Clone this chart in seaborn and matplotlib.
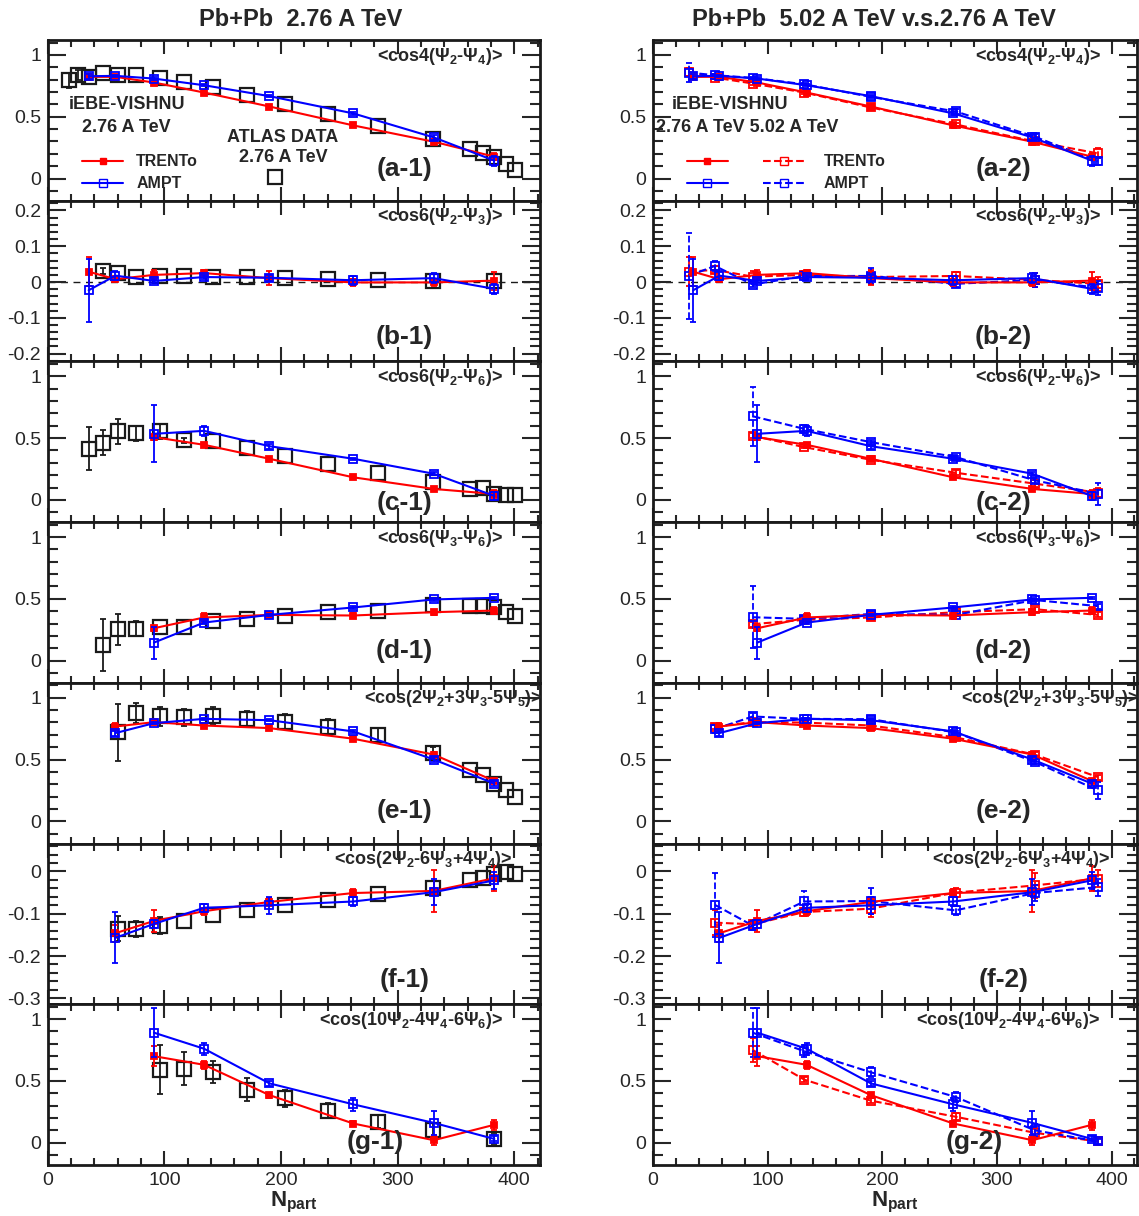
import numpy as np
import pandas as pd
import matplotlib
matplotlib.use("Agg")
import matplotlib.pyplot as plt
from matplotlib.lines import Line2D
from matplotlib.ticker import MultipleLocator
import seaborn as sns

NAN = np.nan

# centrality (Npart) of the model points and of the ATLAS points
NPART_276 = [35, 58, 91, 134, 190, 262, 331, 383]
NPART_502 = [31, 54, 87, 132, 190, 264, 333, 388]
NPART_ATLAS = [18, 26, 35, 47, 60, 76, 96, 117, 142, 171, 203, 240, 283, 330, 362, 373, 383, 393, 401]

# (a) <cos4(Psi2-Psi4)>
A_TRENTO_276 = [0.823, 0.823, 0.777, 0.696, 0.583, 0.430, 0.298, 0.177]
A_TRENTO_276_ERR = [0.02, 0.01, 0.01, 0.01, 0.01, 0.01, 0.02, 0.03]
A_AMPT_276 = [0.828, 0.831, 0.809, 0.755, 0.667, 0.527, 0.333, 0.145]
A_AMPT_276_ERR = [0.02, 0.01, 0.01, 0.01, 0.01, 0.01, 0.02, 0.04]
A_TRENTO_502 = [0.863, 0.817, 0.769, 0.696, 0.575, 0.438, 0.300, 0.204]
A_TRENTO_502_ERR = [0.03, 0.01, 0.01, 0.01, 0.01, 0.01, 0.02, 0.04]
A_AMPT_502 = [0.858, 0.836, 0.815, 0.763, 0.661, 0.543, 0.339, 0.140]
A_AMPT_502_ERR = [0.08, 0.01, 0.01, 0.01, 0.01, 0.02, 0.02, 0.03]
A_ATLAS = [0.796, 0.836, 0.825, 0.852, 0.839, 0.841, 0.815, 0.782, 0.737, 0.677,
           0.607, 0.519, 0.425, 0.317, 0.242, 0.210, 0.177, 0.116, 0.067]
A_ATLAS_ERR = [0.06, 0.04, 0, 0, 0, 0, 0, 0, 0, 0,
               0, 0, 0, 0, 0, 0, 0, 0, 0]

# (b) <cos6(Psi2-Psi3)>
B_TRENTO_276 = [0.029, 0.008, 0.020, 0.025, 0.011, -0.001, -0.001, 0.004]
B_TRENTO_276_ERR = [0.04, 0.005, 0.015, 0.008, 0.02, 0.01, 0.01, 0.025]
B_AMPT_276 = [-0.023, 0.018, 0.003, 0.014, 0.012, 0.005, 0.011, -0.019]
B_AMPT_276_ERR = [0.088, 0.012, 0.005, 0.006, 0.008, 0.012, 0.015, 0.013]
B_TRENTO_502 = [0.029, 0.034, 0.015, 0.020, 0.014, 0.017, 0.006, -0.005]
B_TRENTO_502_ERR = [0.04, 0.01, 0.015, 0.01, 0.02, 0.01, 0.02, 0.02]
B_AMPT_502 = [0.017, 0.045, -0.007, 0.017, 0.017, -0.005, 0.006, -0.016]
B_AMPT_502_ERR = [0.12, 0.015, 0.008, 0.01, 0.022, 0.01, 0.02, 0.02]
B_ATLAS = [NAN, NAN, NAN, 0.031, 0.026, 0.015, 0.016, 0.017, 0.015, 0.013,
           0.010, 0.009, 0.006, 0.003, NAN, NAN, 0.004, NAN, NAN]
B_ATLAS_ERR = [NAN, NAN, NAN, 0.008, 0, 0, 0, 0, 0, 0,
               0, 0, 0, 0, NAN, NAN, 0, NAN, NAN]

# (c) <cos6(Psi2-Psi6)>
C_TRENTO_276 = [NAN, NAN, 0.508, 0.446, 0.333, 0.183, 0.089, 0.048]
C_TRENTO_276_ERR = [NAN, NAN, 0.02, 0.01, 0.01, 0.01, 0.01, 0.03]
C_AMPT_276 = [NAN, NAN, 0.535, 0.559, 0.435, 0.333, 0.212, 0.032]
C_AMPT_276_ERR = [NAN, NAN, 0.23, 0.04, 0.02, 0.01, 0.01, 0.03]
C_TRENTO_502 = [NAN, NAN, 0.519, 0.427, 0.325, 0.220, 0.132, 0.059]
C_TRENTO_502_ERR = [NAN, NAN, 0.02, 0.01, 0.01, 0.02, 0.03, 0.04]
C_AMPT_502 = [NAN, NAN, 0.677, 0.575, 0.468, 0.347, 0.159, 0.051]
C_AMPT_502_ERR = [NAN, NAN, 0.24, 0.03, 0.02, 0.01, 0.02, 0.09]
C_ATLAS = [NAN, NAN, 0.414, 0.462, 0.554, 0.538, 0.556, 0.481, 0.473, 0.419,
           0.355, 0.290, 0.220, 0.145, 0.091, 0.094, 0.051, 0.038, 0.043]
C_ATLAS_ERR = [NAN, NAN, 0.175, 0.10, 0.10, 0.06, 0.06, 0.02, 0, 0,
               0, 0, 0, 0, 0, 0, 0, 0, 0]

# (d) <cos6(Psi3-Psi6)>
D_TRENTO_276 = [NAN, NAN, 0.262, 0.349, 0.370, 0.365, 0.392, 0.405]
D_TRENTO_276_ERR = [NAN, NAN, 0.02, 0.04, 0.01, 0.02, 0.02, 0.03]
D_AMPT_276 = [NAN, NAN, 0.146, 0.308, 0.370, 0.430, 0.495, 0.508]
D_AMPT_276_ERR = [NAN, NAN, 0.13, 0.01, 0.01, 0.01, 0.01, 0.01]
D_TRENTO_502 = [NAN, NAN, 0.295, 0.330, 0.349, 0.392, 0.416, 0.370]
D_TRENTO_502_ERR = [NAN, NAN, 0.02, 0.02, 0.02, 0.02, 0.02, 0.02]
D_AMPT_502 = [NAN, NAN, 0.351, 0.338, 0.378, 0.370, 0.490, 0.441]
D_AMPT_502_ERR = [NAN, NAN, 0.25, 0.02, 0.01, 0.01, 0.01, 0.02]
D_ATLAS = [NAN, NAN, NAN, 0.127, 0.254, 0.257, 0.270, 0.270, 0.322, 0.335,
           0.362, 0.392, 0.405, 0.446, 0.443, 0.441, 0.430, 0.392, 0.365]
D_ATLAS_ERR = [NAN, NAN, NAN, 0.21, 0.125, 0.06, 0, 0, 0, 0,
               0, 0, 0, 0, 0, 0, 0, 0, 0]

# (e) <cos(2Psi2+3Psi3-5Psi5)>
E_TRENTO_276 = [NAN, 0.767, 0.802, 0.775, 0.754, 0.668, 0.540, 0.326]
E_TRENTO_276_ERR = [NAN, 0.03, 0.01, 0.01, 0.01, 0.01, 0.02, 0.02]
E_AMPT_276 = [NAN, 0.714, 0.794, 0.829, 0.818, 0.727, 0.500, 0.305]
E_AMPT_276_ERR = [NAN, 0.02, 0.01, 0.01, 0.01, 0.01, 0.02, 0.02]
E_TRENTO_502 = [NAN, 0.767, 0.802, 0.799, 0.775, 0.679, 0.540, 0.358]
E_TRENTO_502_ERR = [NAN, 0.02, 0.01, 0.01, 0.01, 0.01, 0.02, 0.02]
E_AMPT_502 = [NAN, 0.746, 0.848, 0.829, 0.826, 0.719, 0.481, 0.251]
E_AMPT_502_ERR = [NAN, 0.03, 0.03, 0.01, 0.01, 0.01, 0.02, 0.07]
E_ATLAS = [NAN, NAN, NAN, NAN, 0.719, 0.874, 0.848, 0.842, 0.856, 0.829,
           0.807, 0.767, 0.695, 0.553, 0.417, 0.374, 0.305, 0.257, 0.200]
E_ATLAS_ERR = [NAN, NAN, NAN, NAN, 0.23, 0.08, 0.08, 0.07, 0.07, 0.06,
               0.06, 0.06, 0.06, 0.05, 0, 0, 0, 0, 0]

# (f) <cos(2Psi2-6Psi3+4Psi4)>
F_TRENTO_276 = [NAN, -0.146, -0.117, -0.094, -0.072, -0.051, -0.046, -0.016]
F_TRENTO_276_ERR = [NAN, 0.02, 0.025, 0.008, 0.01, 0.01, 0.05, 0.03]
F_AMPT_276 = [NAN, -0.157, -0.124, -0.086, -0.080, -0.071, -0.049, -0.021]
F_AMPT_276_ERR = [NAN, 0.06, 0.01, 0.01, 0.02, 0.01, 0.03, 0.02]
F_TRENTO_502 = [NAN, -0.121, -0.125, -0.096, -0.088, -0.050, -0.033, -0.017]
F_TRENTO_502_ERR = [NAN, 0.03, 0.01, 0.01, 0.02, 0.01, 0.03, 0.02]
F_AMPT_502 = [NAN, -0.079, -0.128, -0.071, -0.070, -0.092, -0.051, -0.037]
F_AMPT_502_ERR = [NAN, 0.075, 0.01, 0.025, 0.03, 0.01, 0.02, 0.02]
F_ATLAS = [NAN, NAN, NAN, NAN, -0.135, -0.136, -0.128, -0.116, -0.104, -0.092,
           -0.080, -0.067, -0.053, -0.039, -0.020, -0.016, -0.007, -0.002, -0.007]
F_ATLAS_ERR = [NAN, NAN, NAN, NAN, 0.03, 0.02, 0.02, 0, 0, 0,
               0, 0, 0, 0, 0, 0, 0, 0, 0]

# (g) <cos(10Psi2-4Psi4-6Psi6)>
G_TRENTO_276 = [NAN, NAN, 0.70, 0.63, 0.385, 0.155, 0.02, 0.145]
G_TRENTO_276_ERR = [NAN, NAN, 0.08, 0.03, 0.02, 0.02, 0.04, 0.04]
G_AMPT_276 = [NAN, NAN, 0.89, 0.76, 0.48, 0.31, 0.16, 0.03]
G_AMPT_276_ERR = [NAN, NAN, 0.2, 0.05, 0.02, 0.05, 0.1, 0.02]
G_TRENTO_502 = [NAN, NAN, 0.75, 0.51, 0.34, 0.21, 0.08, 0.01]
G_TRENTO_502_ERR = [NAN, NAN, 0.1, 0.02, 0.02, 0.03, 0.04, 0.03]
G_AMPT_502 = [NAN, NAN, 0.89, 0.74, 0.57, 0.37, 0.10, 0.01]
G_AMPT_502_ERR = [NAN, NAN, 0.2, 0.05, 0.04, 0.04, 0.05, 0.02]
G_ATLAS = [NAN, NAN, NAN, NAN, NAN, NAN, 0.59, 0.60, 0.57, 0.43,
           0.36, 0.26, 0.17, 0.10, NAN, NAN, 0.03, NAN, NAN]
G_ATLAS_ERR = [NAN, NAN, NAN, NAN, NAN, NAN, 0.2, 0.13, 0.09, 0.09,
               0.07, 0.06, 0.05, 0.06, NAN, NAN, 0.04, NAN, NAN]

OBSERVABLES = [r"<cos4($\Psi_2$-$\Psi_4$)>",
               r"<cos6($\Psi_2$-$\Psi_3$)>",
               r"<cos6($\Psi_2$-$\Psi_6$)>",
               r"<cos6($\Psi_3$-$\Psi_6$)>",
               r"<cos(2$\Psi_2$+3$\Psi_3$-5$\Psi_5$)>",
               r"<cos(2$\Psi_2$-6$\Psi_3$+4$\Psi_4$)>",
               r"<cos(10$\Psi_2$-4$\Psi_4$-6$\Psi_6$)>"]
LETTERS = ["a", "b", "c", "d", "e", "f", "g"]

RED = "#ff0000"
BLUE = "#0000ff"


def draw_series(ax, x, y, err, color, dashed=False, filled=False, atlas=False):
    df = pd.DataFrame({"x": x, "y": y, "err": err}).dropna()
    if atlas:
        style = dict(linestyle="none", marker="s", markersize=10.5,
                     markerfacecolor="none", markeredgecolor="k", markeredgewidth=1.6)
    else:
        style = dict(linestyle="--" if dashed else "-", lw=1.5, marker="s",
                     markersize=4.6 if filled else 5.4,
                     markerfacecolor=color if filled else "none",
                     markeredgecolor=color, markeredgewidth=1.3)
    shown = df[df["err"] > 0]
    eb = ax.errorbar(shown["x"], shown["y"], yerr=shown["err"], fmt="none", ecolor=color,
                     elinewidth=1.3, capsize=2.5, capthick=1.3)
    if dashed and len(eb[2]):
        eb[2][0].set_linestyle("--")
    sns.lineplot(data=df, x="x", y="y", ax=ax, color=color, estimator=None,
                 sort=False, errorbar=None, legend=False, **style)


def style_axis(ax, row, ylim, yticks, ylabels, minor):
    ax.set_xlim(0, 422)
    ax.set_ylim(*ylim)
    ax.xaxis.set_major_locator(MultipleLocator(100))
    ax.xaxis.set_minor_locator(MultipleLocator(20))
    ax.set_yticks(yticks)
    ax.set_yticklabels(ylabels)
    ax.yaxis.set_minor_locator(MultipleLocator(minor))
    ax.tick_params(which="both", direction="in", top=True, right=True, width=1.5,
                   labelsize=14, labelbottom=(row == 6), pad=5)
    ax.tick_params(axis="y", which="major", length=13)
    ax.tick_params(axis="y", which="minor", length=7)
    ax.tick_params(axis="x", which="major", length=10)
    ax.tick_params(axis="x", which="minor", length=5)
    for sp in ax.spines.values():
        sp.set_linewidth(2)
        sp.set_color("k")
    ax.set_xlabel("")
    ax.set_ylabel("")


def main():
    sns.set_theme(style="ticks")
    plt.rcParams["font.family"] = ["Liberation Sans", "DejaVu Sans"]
    plt.rcParams["mathtext.fontset"] = "custom"
    plt.rcParams["mathtext.rm"] = "Liberation Sans:bold"
    plt.rcParams["mathtext.it"] = "Liberation Sans:bold"
    plt.rcParams["mathtext.bf"] = "Liberation Sans:bold"
    plt.rcParams["mathtext.default"] = "bf"

    trento_276 = [A_TRENTO_276, B_TRENTO_276, C_TRENTO_276, D_TRENTO_276, E_TRENTO_276, F_TRENTO_276, G_TRENTO_276]
    trento_276_err = [A_TRENTO_276_ERR, B_TRENTO_276_ERR, C_TRENTO_276_ERR, D_TRENTO_276_ERR,
                      E_TRENTO_276_ERR, F_TRENTO_276_ERR, G_TRENTO_276_ERR]
    ampt_276 = [A_AMPT_276, B_AMPT_276, C_AMPT_276, D_AMPT_276, E_AMPT_276, F_AMPT_276, G_AMPT_276]
    ampt_276_err = [A_AMPT_276_ERR, B_AMPT_276_ERR, C_AMPT_276_ERR, D_AMPT_276_ERR,
                    E_AMPT_276_ERR, F_AMPT_276_ERR, G_AMPT_276_ERR]
    trento_502 = [A_TRENTO_502, B_TRENTO_502, C_TRENTO_502, D_TRENTO_502, E_TRENTO_502, F_TRENTO_502, G_TRENTO_502]
    trento_502_err = [A_TRENTO_502_ERR, B_TRENTO_502_ERR, C_TRENTO_502_ERR, D_TRENTO_502_ERR,
                      E_TRENTO_502_ERR, F_TRENTO_502_ERR, G_TRENTO_502_ERR]
    ampt_502 = [A_AMPT_502, B_AMPT_502, C_AMPT_502, D_AMPT_502, E_AMPT_502, F_AMPT_502, G_AMPT_502]
    ampt_502_err = [A_AMPT_502_ERR, B_AMPT_502_ERR, C_AMPT_502_ERR, D_AMPT_502_ERR,
                    E_AMPT_502_ERR, F_AMPT_502_ERR, G_AMPT_502_ERR]
    atlas = [A_ATLAS, B_ATLAS, C_ATLAS, D_ATLAS, E_ATLAS, F_ATLAS, G_ATLAS]
    atlas_err = [A_ATLAS_ERR, B_ATLAS_ERR, C_ATLAS_ERR, D_ATLAS_ERR, E_ATLAS_ERR, F_ATLAS_ERR, G_ATLAS_ERR]

    # per-row axis settings
    unit_lim = (-0.18, 1.12)
    ylims = [unit_lim, (-0.222, 0.227), unit_lim, unit_lim, unit_lim, (-0.314, 0.066), unit_lim]
    yticks = [[0, 0.5, 1], [-0.2, -0.1, 0, 0.1, 0.2], [0, 0.5, 1], [0, 0.5, 1],
              [0, 0.5, 1], [-0.3, -0.2, -0.1, 0], [0, 0.5, 1]]
    ylabels = [["0", "0.5", "1"], ["-0.2", "-0.1", "0", "0.1", "0.2"], ["0", "0.5", "1"],
               ["0", "0.5", "1"], ["0", "0.5", "1"], ["-0.3", "-0.2", "-0.1", "0"], ["0", "0.5", "1"]]
    minors = [0.1, 0.02, 0.1, 0.1, 0.1, 0.02, 0.1]
    tag_x = [0.725, 0.725, 0.725, 0.725, 0.725, 0.725, 0.665]
    tag_y = [0.2, 0.155, 0.12, 0.2, 0.2, 0.15, 0.14]
    obs_x = [0.925, 0.925, 0.925, 0.925, 1.005, 0.945, 0.925]

    fig = plt.figure(figsize=(11.39, 12.16), dpi=100)
    gs_l = fig.add_gridspec(7, 1, left=0.042, right=0.474, top=0.967, bottom=0.042, hspace=0)
    gs_r = fig.add_gridspec(7, 1, left=0.5733, right=0.998, top=0.967, bottom=0.042, hspace=0)

    for row in range(7):
        for col, gs in enumerate([gs_l, gs_r]):
            ax = fig.add_subplot(gs[row, 0])
            if row == 1:
                ax.axhline(0, color="k", lw=1, ls=(0, (5, 4)), zorder=0)
            if col == 0:
                draw_series(ax, NPART_ATLAS, atlas[row], atlas_err[row], "k", atlas=True)
            else:
                draw_series(ax, NPART_502, trento_502[row], trento_502_err[row], RED, dashed=True)
                draw_series(ax, NPART_502, ampt_502[row], ampt_502_err[row], BLUE, dashed=True)
            draw_series(ax, NPART_276, trento_276[row], trento_276_err[row], RED, filled=True)
            draw_series(ax, NPART_276, ampt_276[row], ampt_276_err[row], BLUE)
            style_axis(ax, row, ylims[row], yticks[row], ylabels[row], minors[row])

            ax.text(obs_x[row], 0.9, OBSERVABLES[row], transform=ax.transAxes, ha="right",
                    va="center", fontsize=13, fontweight="bold", clip_on=False)
            ax.text(tag_x[row], tag_y[row], f"({LETTERS[row]}-{col + 1})", transform=ax.transAxes,
                    ha="center", va="center", fontsize=19, fontweight="bold")
            if row == 6:
                ax.set_xlabel(r"N$_{\rm part}$", fontsize=16, fontweight="bold", labelpad=1)

            if row == 0 and col == 0:
                ax.text(0.16, 0.60, "iEBE-VISHNU", transform=ax.transAxes, ha="center",
                        va="center", fontsize=13, fontweight="bold")
                ax.text(0.16, 0.455, "2.76 A TeV", transform=ax.transAxes, ha="center",
                        va="center", fontsize=13, fontweight="bold")
                handles = [Line2D([], [], color=RED, lw=1.5, marker="s", ms=4.6, mfc=RED, mec=RED),
                           Line2D([], [], color=BLUE, lw=1.5, marker="s", ms=5.4, mfc="none", mec=BLUE)]
                leg = ax.legend(handles, ["TRENTo", "AMPT"], loc="upper left",
                                bbox_to_anchor=(0.04, 0.38), frameon=False, handlelength=2.6,
                                handletextpad=0.8, labelspacing=0.45,
                                prop={"weight": "bold", "size": 11.5})
                ax.add_artist(leg)
                ax.text(0.478, 0.394, "ATLAS DATA", transform=ax.transAxes, ha="center",
                        va="center", fontsize=13, fontweight="bold")
                ax.text(0.478, 0.27, "2.76 A TeV", transform=ax.transAxes, ha="center",
                        va="center", fontsize=13, fontweight="bold")
                mk = [Line2D([], [], ls="none", marker="s", ms=10.5, mfc="none", mec="k", mew=1.6)]
                ax.legend(mk, [""], loc="center", bbox_to_anchor=(0.462, 0.1375), frameon=False,
                          handlelength=1.0, handletextpad=0.0, borderpad=0.0)
            if row == 0 and col == 1:
                ax.text(0.16, 0.60, "iEBE-VISHNU", transform=ax.transAxes, ha="center",
                        va="center", fontsize=13, fontweight="bold")
                ax.text(0.195, 0.455, "2.76 A TeV 5.02 A TeV", transform=ax.transAxes,
                        ha="center", va="center", fontsize=13, fontweight="bold")
                handles = [Line2D([], [], color=RED, lw=1.5, marker="s", ms=4.6, mfc=RED, mec=RED),
                           Line2D([], [], color=BLUE, lw=1.5, marker="s", ms=5.4, mfc="none", mec=BLUE),
                           Line2D([], [], color=RED, lw=1.5, ls="--", marker="s", ms=5.4, mfc="none", mec=RED),
                           Line2D([], [], color=BLUE, lw=1.5, ls="--", marker="s", ms=5.4, mfc="none", mec=BLUE)]
                ax.legend(handles, ["", "", "TRENTo", "AMPT"], ncol=2, loc="upper left",
                          bbox_to_anchor=(0.04, 0.38), frameon=False, handlelength=2.6,
                          handletextpad=1.2, labelspacing=0.45, columnspacing=1.0,
                          prop={"weight": "bold", "size": 11.5})

    fig.text(0.264, 0.9836, "Pb+Pb  2.76 A TeV", ha="center", va="center",
             fontsize=17, fontweight="bold")
    fig.text(0.767, 0.9836, "Pb+Pb  5.02 A TeV v.s.2.76 A TeV", ha="center", va="center",
             fontsize=17, fontweight="bold")

    fig.savefig("out.png", dpi=100)


if __name__ == "__main__":
    main()
